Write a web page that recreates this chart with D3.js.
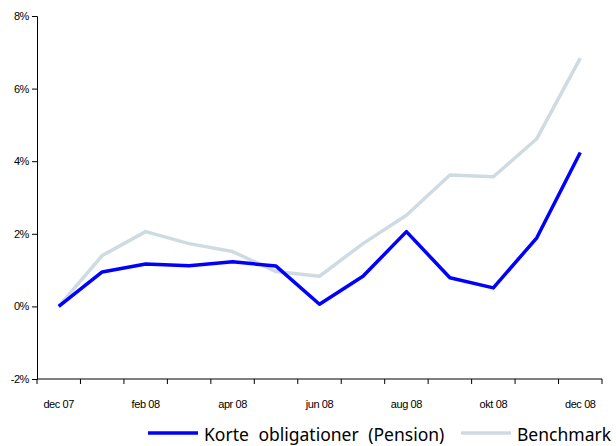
<!DOCTYPE html>
<html>
<head>
<meta charset="utf-8">
<script src="https://cdn.jsdelivr.net/npm/d3@7"></script>
<style>
  body { margin: 0; background: #fff; }
  svg { display: block; }
</style>
</head>
<body>
<script>
// months on the x axis (labels shown on every other one)
var months = ['dec 07', 'jan 08', 'feb 08', 'mar 08', 'apr 08', 'maj 08', 'jun 08',
	'jul 08', 'aug 08', 'sep 08', 'okt 08', 'nov 08', 'dec 08'];

// series values in %
var korte = [0, 0.95, 1.17, 1.12, 1.23, 1.11, 0.06, 0.83, 2.06, 0.79, 0.51, 1.89, 4.24];
var benchmark = [0, 1.40, 2.06, 1.73, 1.51, 0.96, 0.83, 1.73, 2.51, 3.62, 3.57, 4.62, 6.84];

var yTicks = [-2, 0, 2, 4, 6, 8];

var seriesNames = ['Korte obligationer (Pension)', 'Benchmark'];
var colors = ['#0000ff', '#cfdbe3'];

var width = 616,
	height = 446;

var margin = { top: 16, right: 14, bottom: 67, left: 37 };

var svg = d3.select('body')
	.append('svg')
	.attr('width', width)
	.attr('height', height);

// band scale for the month slots, points sit in the middle
var x = d3.scaleBand()
	.domain(months)
	.range([margin.left, width - margin.right]);

var y = d3.scaleLinear()
	.domain([-2, 8])
	.range([height - margin.bottom, margin.top]);

// y axis
var yAxis = svg.append('g')
	.attr('transform', 'translate(' + margin.left + ',0)')
	.call(d3.axisLeft(y)
		.tickValues(yTicks)
		.tickSize(5)
		.tickFormat(function(d) { return d + '%'; }));

yAxis.attr('font-family', 'Liberation Sans, Arial, sans-serif')
	.attr('font-size', 11);
yAxis.selectAll('text')
	.attr('letter-spacing', -0.4)
	.attr('fill', '#000');
yAxis.selectAll('.domain, .tick line').attr('stroke', '#000');

// x axis, ticks between the months
var xAxis = svg.append('g')
	.attr('transform', 'translate(0,' + (height - margin.bottom) + ')');

xAxis.append('line')
	.attr('x1', margin.left)
	.attr('x2', width - margin.right)
	.attr('stroke', '#000');

xAxis.selectAll('.tick')
	.data(months.concat(['end']))
	.enter().append('line')
	.attr('class', 'tick')
	.attr('x1', function(d, i) { return margin.left + i * x.bandwidth(); })
	.attr('x2', function(d, i) { return margin.left + i * x.bandwidth(); })
	.attr('y1', 0)
	.attr('y2', 5)
	.attr('stroke', '#000');

xAxis.selectAll('.lbl')
	.data(months.filter(function(d, i) { return i % 2 === 0; }))
	.enter().append('text')
	.attr('class', 'lbl')
	.attr('x', function(d) { return x(d) + x.bandwidth() / 2; })
	.attr('y', 29)
	.attr('text-anchor', 'middle')
	.attr('font-family', 'Liberation Sans, Arial, sans-serif')
	.attr('font-size', 11)
	.attr('letter-spacing', -0.4)
	.text(function(d) { return d; });

// lines
var line = d3.line()
	.x(function(d, i) { return x(months[i]) + x.bandwidth() / 2; })
	.y(function(d) { return y(d); });

svg.append('path')
	.datum(benchmark)
	.attr('d', line)
	.attr('fill', 'none')
	.attr('stroke', colors[1])
	.attr('stroke-width', 3.5)
	.attr('stroke-linejoin', 'round');

svg.append('path')
	.datum(korte)
	.attr('d', line)
	.attr('fill', 'none')
	.attr('stroke', colors[0])
	.attr('stroke-width', 3.5)
	.attr('stroke-linejoin', 'round');

// legend
var legend = svg.append('g')
	.attr('transform', 'translate(0,433)');

var legendX = [148, 461];

seriesNames.forEach(function(name, i) {
	legend.append('line')
		.attr('x1', legendX[i])
		.attr('x2', legendX[i] + 50)
		.attr('stroke', colors[i])
		.attr('stroke-width', 3.5);
	legend.append('text')
		.attr('x', legendX[i] + 56)
		.attr('y', 8)
		.attr('font-family', 'Noto Sans, sans-serif')
		.attr('font-size', 17.5)
		.attr('word-spacing', 5)
		.attr('fill', '#000')
		.text(name);
});
</script>
</body>
</html>
